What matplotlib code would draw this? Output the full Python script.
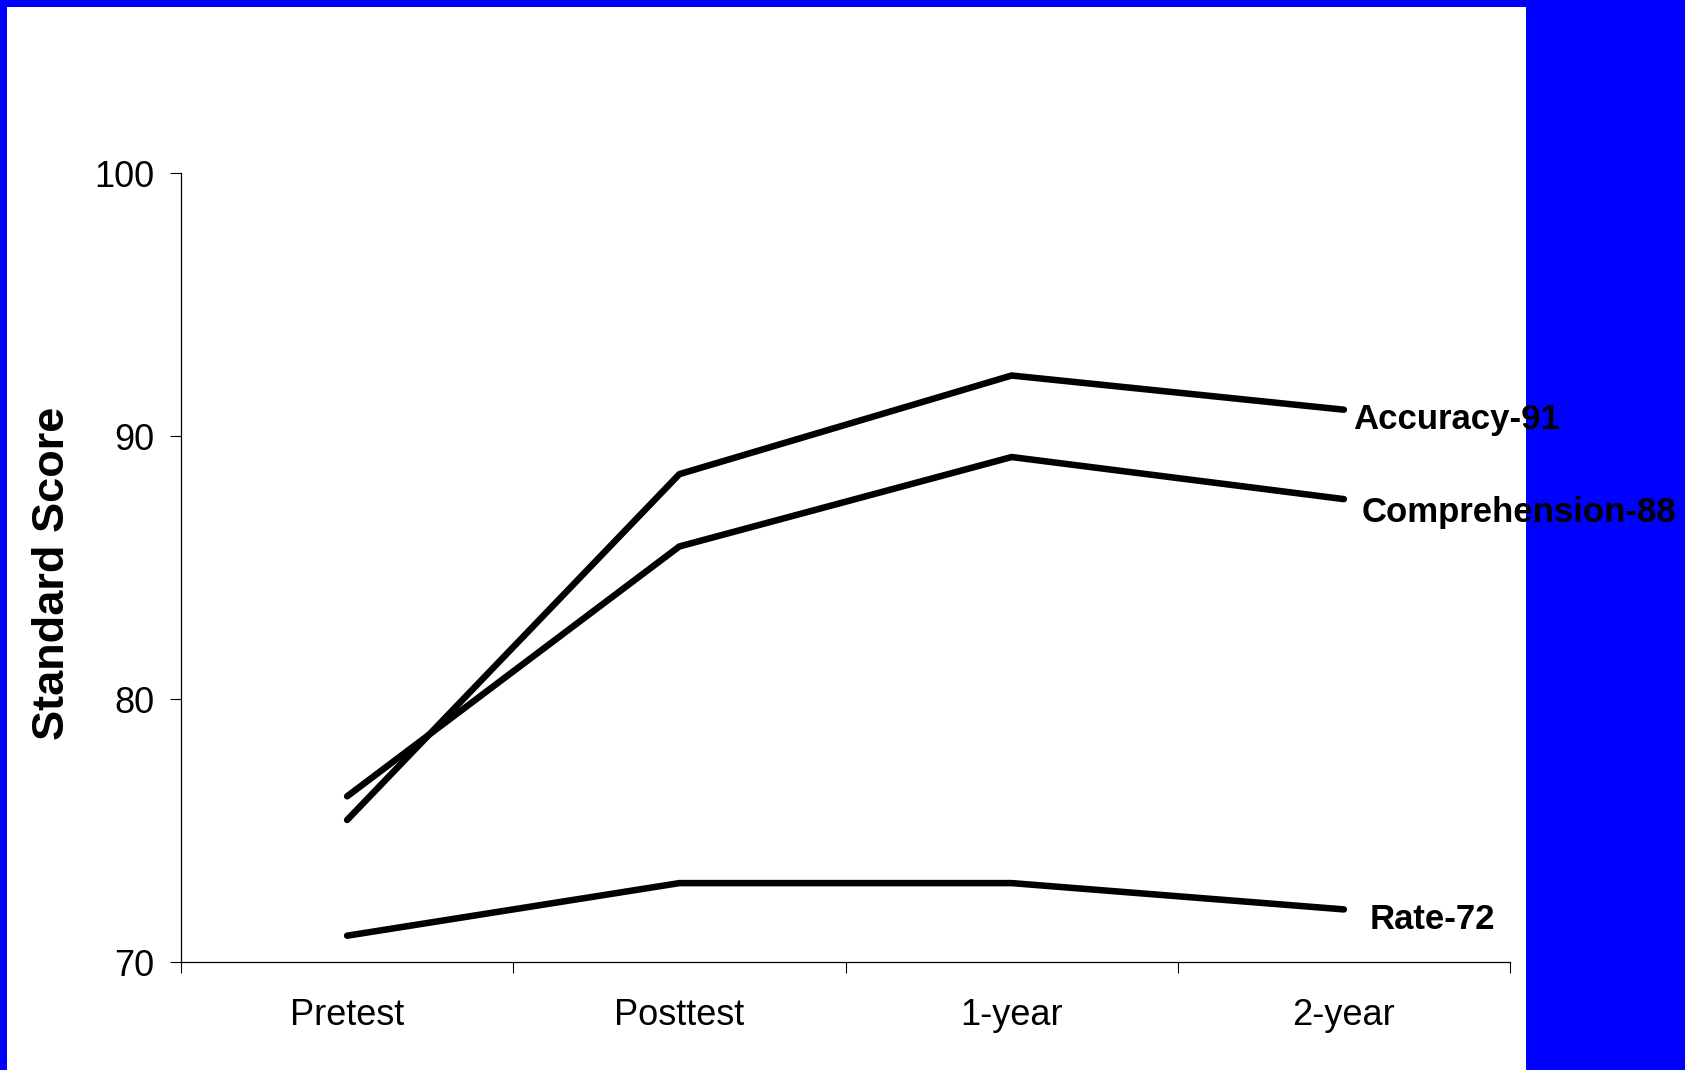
import matplotlib
matplotlib.use('Agg')
import matplotlib.pyplot as plt
from matplotlib.patches import Rectangle

plt.rcParams['font.family'] = ['Liberation Sans', 'DejaVu Sans']

# data
timepoints = ['Pretest', 'Posttest', '1-year', '2-year']
accuracy = [75.4, 88.55, 92.3, 91.0]
comprehension = [76.3, 85.8, 89.2, 87.6]
rate = [71.0, 73.0, 73.0, 72.0]
end_labels = ['Accuracy-91', 'Comprehension-88', 'Rate-72']
yticks = [70, 80, 90, 100]


def main():
    W, H = 1685, 1070
    fig = plt.figure(figsize=(W / 100, H / 100), dpi=100)
    fig.patch.set_facecolor('#0000FF')
    # white slide area
    fig.patches.append(Rectangle((7 / W, 0), (1526 - 7) / W, (H - 7) / H,
                                 transform=fig.transFigure, facecolor='white',
                                 edgecolor='none', zorder=-1))

    ax = fig.add_axes([181 / W, 1 - 962 / H, (1510 - 181) / W, (962 - 173) / H])
    ax.set_facecolor('none')

    x = list(range(len(timepoints)))
    series = [accuracy, comprehension, rate]
    offsets = [(9, -10), (18, -13), (26, -10)]
    for vals, lab, off in zip(series, end_labels, offsets):
        ax.plot(x, vals, color='black', lw=4.7, solid_capstyle='round',
                solid_joinstyle='round')
        ax.annotate(lab, (x[-1], vals[-1]), xytext=off, textcoords='offset pixels',
                    ha='left', va='center', fontsize=25, fontweight='bold',
                    annotation_clip=False)

    ax.set_xlim(-0.5, len(timepoints) - 0.5)
    ax.set_ylim(70, 100)
    ax.set_yticks(yticks)
    ax.set_xticks([i - 0.5 for i in range(len(timepoints) + 1)])
    ax.set_xticklabels([])
    ax.set_xticks(x, minor=True)
    ax.set_xticklabels(timepoints, minor=True)
    ax.tick_params(axis='x', which='minor', length=0, pad=26, labelsize=26)
    ax.tick_params(axis='x', which='major', length=8, width=0.8, direction='out')
    ax.tick_params(axis='y', length=8, width=0.8, direction='out', pad=11,
                   labelsize=26)

    for s in ['top', 'right']:
        ax.spines[s].set_visible(False)
    for s in ['left', 'bottom']:
        ax.spines[s].set_linewidth(0.9)

    ax.set_ylabel('Standard Score', fontsize=32.5, fontweight='bold')
    ax.yaxis.set_label_coords(53 / W, 1 - 573 / H, transform=fig.transFigure)
    ax.yaxis.label.set_va('center')

    fig.savefig('out.png', dpi=100, facecolor=fig.get_facecolor())


if __name__ == '__main__':
    main()
